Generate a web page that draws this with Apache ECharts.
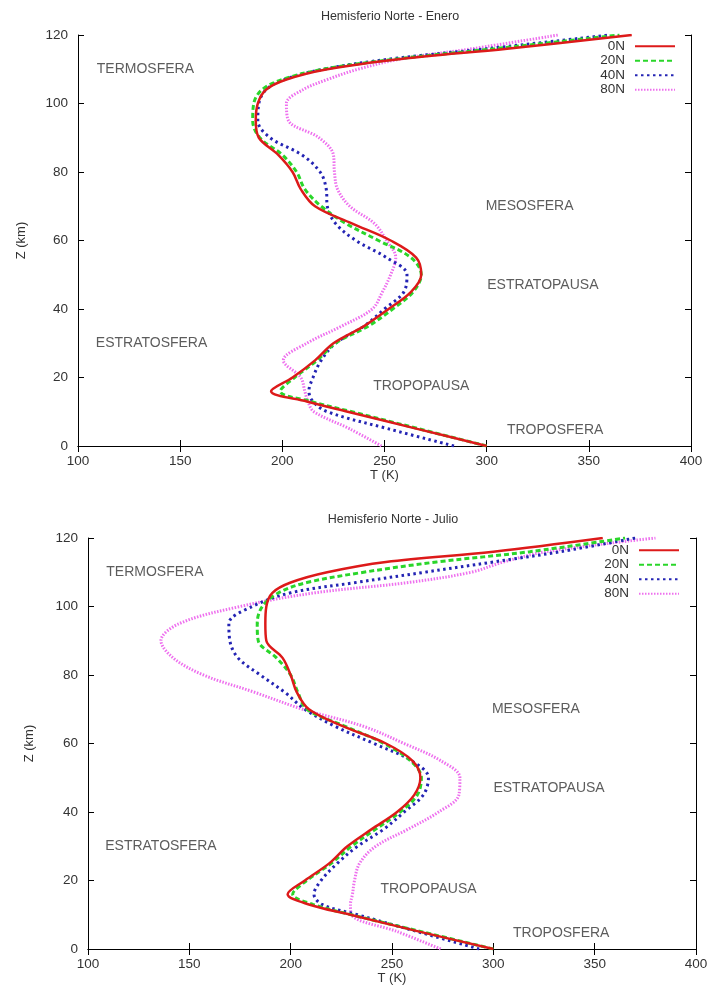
<!DOCTYPE html>
<html>
<head>
<meta charset="utf-8">
<title>Hemisferio Norte</title>
<script src="https://cdn.jsdelivr.net/npm/echarts@6/dist/echarts.min.js"></script>
<style>
  html, body { margin: 0; padding: 0; background: #fff; }
  #main { width: 712px; height: 994px; }
</style>
</head>
<body>
<div id="main"></div>
<script>
// altitude levels (km) shared by every profile
const altitudes = [0, 5, 10, 13, 16, 20, 25, 30, 35, 40, 45, 50, 55, 60, 65, 70, 75, 80, 85, 90, 95, 100, 104, 107, 110, 113, 116, 120];
const latitudes = ["0N", "20N", "40N", "80N"];

// Enero, temperature (K) at each altitude
const enero0N  = [300, 266, 232, 212, 194.5, 205, 216, 225, 240, 252, 263, 268, 265.5, 253, 234, 216, 209, 205, 198, 188.5, 187, 188, 192, 202, 222, 258, 310, 371];
const enero20N = [300, 267, 234, 214, 199, 206, 217, 226, 242, 254, 264, 268, 263, 247, 231, 219, 211, 207, 200, 189, 185.5, 186, 190, 200, 220, 256, 304, 365];
const enero40N = [284, 252, 222, 215, 213, 215, 219, 226, 240, 250, 259.5, 261, 251, 236, 226, 222, 221.5, 218.5, 209.5, 194, 188, 188.5, 192, 201, 220, 253, 300, 360];
const enero80N = [248.5, 233, 215.5, 212.5, 211, 209, 200.5, 212, 229, 244, 249, 253, 255.5, 251, 245, 233, 227, 225.5, 225, 218, 203, 202, 210, 222, 237, 258, 293, 335];

// Julio
const julio0N  = [300, 264, 229.5, 209, 198.5, 207, 219, 228, 240, 252.5, 261, 264, 260, 247, 226, 209, 203, 200, 196, 188, 187.5, 188, 191, 200, 218, 247, 300, 354];
const julio20N = [300, 265, 230, 211, 201, 208, 220, 230, 242, 254, 262.5, 264.5, 259, 246, 227, 208, 203.5, 200, 193, 184, 183.5, 186, 194, 208, 236, 272, 318, 365];
const julio40N = [293, 263, 233, 215.5, 211.5, 215, 223, 233, 246, 256, 265.5, 268, 259.5, 241, 222, 207, 197, 185, 174, 170, 169.5, 181, 200, 232, 266, 300, 333, 370];
const julio80N = [274, 253, 230, 229.5, 230.5, 231.5, 234, 242, 258, 273, 283, 283.5, 274, 256, 236, 206, 182, 157, 142, 136, 145, 175, 212, 258, 289, 305, 326, 380];

// layer labels written inside the plots
const zoneNames = ["TERMOSFERA", "MESOSFERA", "ESTRATOPAUSA", "ESTRATOSFERA", "TROPOPAUSA", "TROPOSFERA"];
const zoneT = [133, 321, 327.5, 136, 268, 333.5];
const zoneZ = [110, 70, 47, 30, 17.5, 4.7];

const FONT = "Liberation Sans";
const TXT = "#333";

const lineStyles = {
  "0N":  { color: "#dd1a1a", width: 2.5, type: "solid" },
  "20N": { color: "#2ad62a", width: 3, type: [5, 3] },
  "40N": { color: "#2424b4", width: 3, type: [2.5, 3.5] },
  "80N": { color: "#ee70ee", width: 3, type: [1.5, 1.5] }
};

function pairs(temps) {
  return temps.map((t, i) => [t, altitudes[i]]);
}

function profileSeries(name, temps, idx) {
  const ls = lineStyles[name];
  return {
    name: name,
    type: "line",
    xAxisIndex: idx * 2,
    yAxisIndex: idx * 2,
    data: pairs(temps),
    smooth: 0.35,
    symbol: "none",
    clip: true,
    color: ls.color,
    lineStyle: { color: ls.color, width: ls.width, type: ls.type, cap: "butt" },
    z: 10 - latitudes.indexOf(name)
  };
}

function zoneSeries(idx) {
  return {
    type: "scatter",
    xAxisIndex: idx * 2,
    yAxisIndex: idx * 2,
    symbolSize: 0,
    silent: true,
    data: zoneNames.map((n, i) => ({ name: n, value: [zoneT[i], zoneZ[i]] })),
    label: {
      show: true,
      position: "inside",
      formatter: p => p.name,
      fontFamily: FONT,
      fontSize: 14,
      color: TXT
    }
  };
}

function axesFor(gridIndex) {
  const tick = { inside: true, length: 6, lineStyle: { color: "#000" } };
  const line = { lineStyle: { color: "#000", width: 1 } };
  const xs = [
    {
      gridIndex, type: "value", min: 100, max: 400, interval: 50, position: "bottom",
      name: "T (K)", nameLocation: "middle", nameGap: 18,
      nameTextStyle: { fontFamily: FONT, fontSize: 13, color: TXT },
      axisLine: line, axisTick: tick, splitLine: { show: false },
      axisLabel: { fontFamily: FONT, fontSize: 13.5, color: TXT, margin: 8 }
    },
    {
      gridIndex, type: "value", min: 100, max: 400, interval: 50, position: "top",
      axisLine: line, axisTick: tick, splitLine: { show: false }, axisLabel: { show: false }
    }
  ];
  const ys = [
    {
      gridIndex, type: "value", min: 0, max: 120, interval: 20, position: "left",
      name: "Z (km)", nameLocation: "middle", nameGap: gridIndex === 0 ? 50 : 52, nameRotate: 90,
      nameTextStyle: { fontFamily: FONT, fontSize: 13, color: TXT },
      axisLine: line, axisTick: tick, splitLine: { show: false },
      axisLabel: { fontFamily: FONT, fontSize: 13.5, color: TXT, margin: 10 }
    },
    {
      gridIndex, type: "value", min: 0, max: 120, interval: 20, position: "right",
      axisLine: line, axisTick: tick, splitLine: { show: false }, axisLabel: { show: false }
    }
  ];
  return { xs, ys };
}

const chart = echarts.init(document.getElementById("main"), null, { renderer: "canvas" });

const a0 = axesFor(0);
const a1 = axesFor(1);

const legendBase = {
  orient: "vertical",
  align: "right",
  padding: 0,
  itemWidth: 40,
  itemHeight: 8,
  itemGap: 0,
  data: latitudes,
  itemStyle: { opacity: 0, borderWidth: 0 },
  textStyle: { fontFamily: FONT, fontSize: 13.5, lineHeight: 14.5, color: TXT, padding: [0, 5, 0, 0] }
};

chart.setOption({
  backgroundColor: "#fff",
  animation: false,
  title: [
    { text: "Hemisferio Norte - Enero", left: 385, top: 5, textAlign: "center",
      textStyle: { fontFamily: FONT, fontSize: 12.5, fontWeight: "normal", color: TXT } },
    { text: "Hemisferio Norte - Julio", left: 388, top: 508, textAlign: "center",
      textStyle: { fontFamily: FONT, fontSize: 12.5, fontWeight: "normal", color: TXT } }
  ],
  legend: [
    Object.assign({}, legendBase, { right: 36, top: 39 }),
    Object.assign({}, legendBase, { right: 32, top: 543 })
  ],
  grid: [
    { left: 78, right: 21, top: 35, height: 411 },
    { left: 88, right: 16, top: 538, height: 411 }
  ],
  xAxis: [...a0.xs, ...a1.xs],
  yAxis: [...a0.ys, ...a1.ys],
  series: [
    profileSeries("0N", enero0N, 0),
    profileSeries("20N", enero20N, 0),
    profileSeries("40N", enero40N, 0),
    profileSeries("80N", enero80N, 0),
    zoneSeries(0),
    profileSeries("0N", julio0N, 1),
    profileSeries("20N", julio20N, 1),
    profileSeries("40N", julio40N, 1),
    profileSeries("80N", julio80N, 1),
    zoneSeries(1)
  ]
});
</script>
</body>
</html>
